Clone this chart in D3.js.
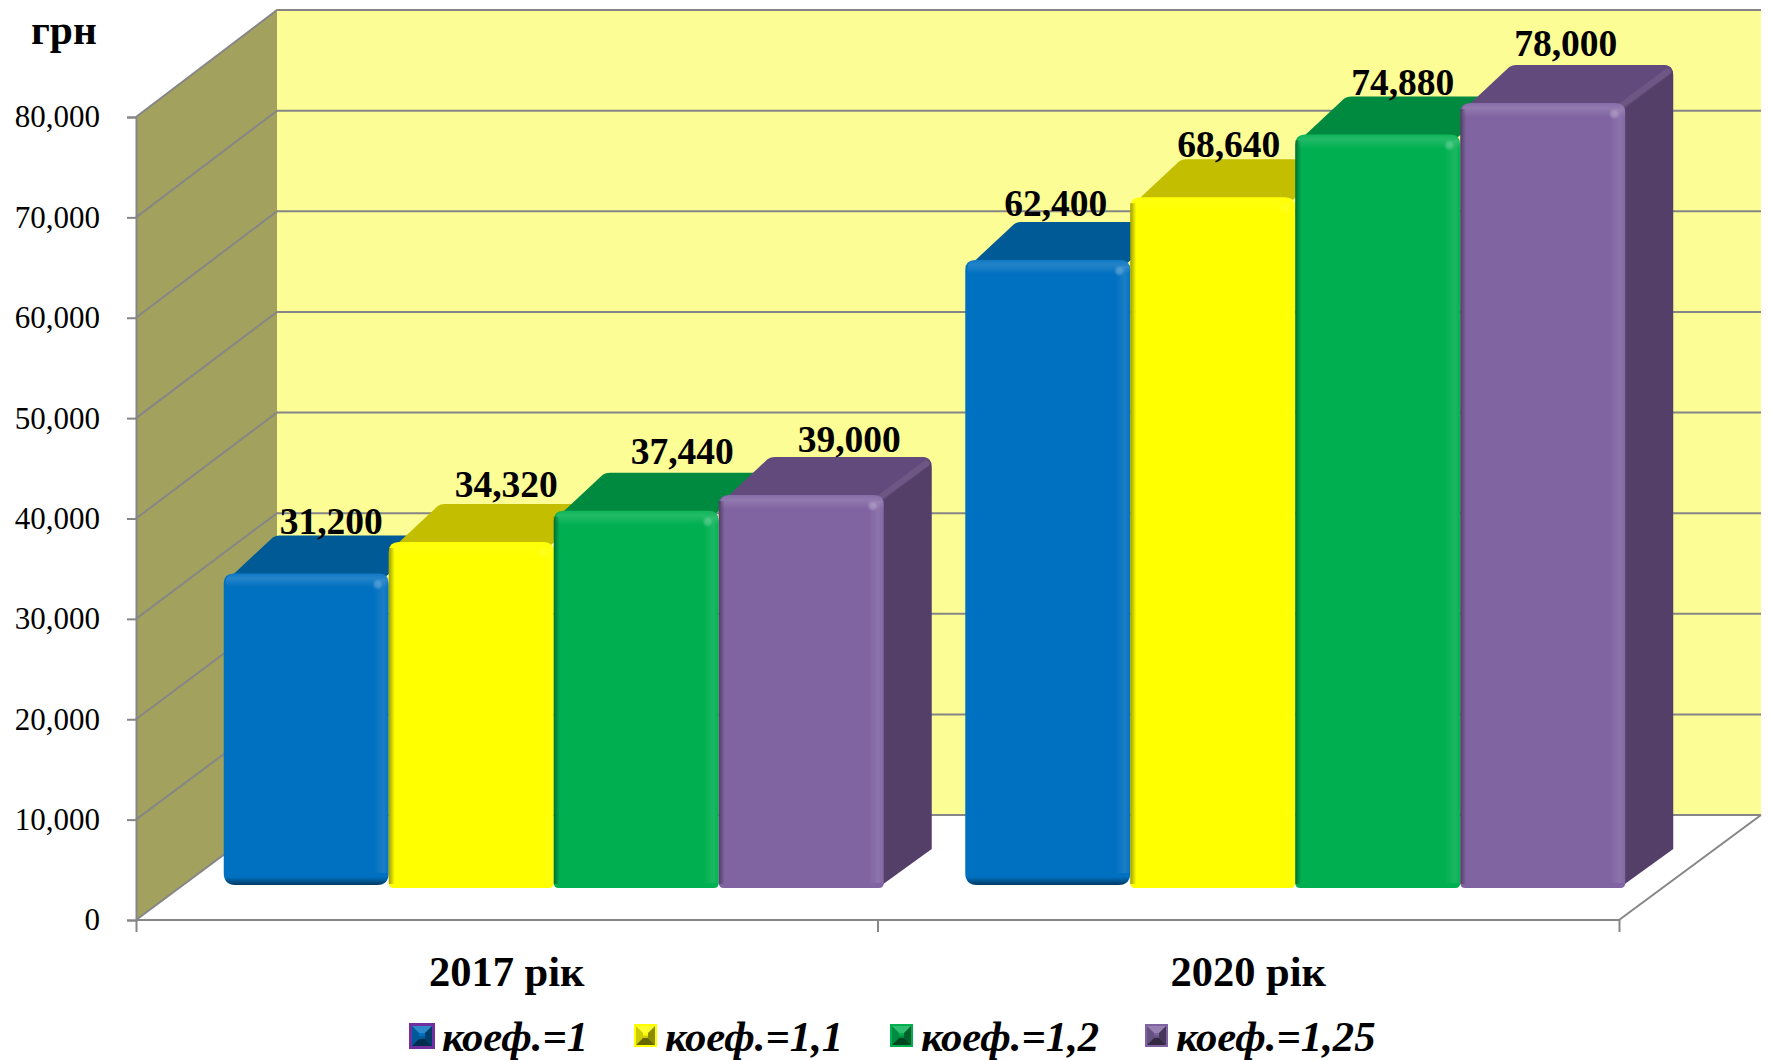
<!DOCTYPE html>
<html><head><meta charset="utf-8">
<script src="https://cdnjs.cloudflare.com/ajax/libs/d3/7.8.5/d3.min.js"></script>
<style>html,body{margin:0;padding:0;background:#fff;overflow:hidden}svg{display:block}
text{font-family:"Liberation Serif","Times New Roman",serif;fill:#000}</style></head>
<body><svg id="c" width="1769" height="1060"></svg>
<script>
// ---- data ----
const categories = ["2017 рік", "2020 рік"];
const seriesNames = ["коеф.=1", "коеф.=1,1", "коеф.=1,2", "коеф.=1,25"];
const values2017 = [31200, 34320, 37440, 39000];
const values2020 = [62400, 68640, 74880, 78000];
const yTicks = [0, 10000, 20000, 30000, 40000, 50000, 60000, 70000, 80000];
const unitLabel = "грн";

// ---- style / layout ----
const frontFill = ["#0070C0", "#FFFF00", "#00B050", "#8064A2"];
const topFill   = ["#005A96", "#C4BE00", "#008A40", "#634A7C"];
const sideFill  = ["#004F85", "#A8A300", "#00763A", "#533F68"];
const legendEdge = ["#7030A0", "#FFFF00", "#00B050", "#8064A2"];
const highlightStrength = [1, 0.35, 1, 1];
const legendX = [409, 634, 890, 1145];
const legendTextX = [442, 665, 921, 1176];
const labelNudge = [[25, -39], [35, -45], [46, -47], [48, -43], [8, -44], [16, -40], [25, -39], [23, -47]];
const grid = "#868686";
const wallDx = 141, barDx = 48, barDy = -38;
const floorLeft = 136, floorRight = 1619;
const svg = d3.select("#c");
const y = d3.scaleLinear().domain([0, 80000]).range([920, 117]);
const yBack = d3.scaleLinear().domain([0, 80000]).range([815, 10]);
const yBar = d3.scaleLinear().domain([0, 80000]).range([887, 83]);
const xCat = d3.scaleBand().domain(categories).range([floorLeft, floorRight]);
const barShift = 47, groupWidth = 660;
const xInner = d3.scaleBand().domain(seriesNames).range([0, groupWidth]);
const groupLeft = c => xCat(c) + (xCat.bandwidth() - groupWidth) / 2 + barShift;

// ---- gradients ----
const defs = svg.append("defs");
function grad(id, x2, y2, stops) {
  const g = defs.append("linearGradient").attr("id", id).attr("x1", 0).attr("y1", 0).attr("x2", x2).attr("y2", y2);
  stops.forEach(s => g.append("stop").attr("offset", s[0]).attr("stop-color", s[1]).attr("stop-opacity", s[2]));
}
grad("hlTop", 0, 1, [[0, "#fff", .06], [.35, "#fff", .14], [1, "#fff", 0]]);
grad("hlRight", 1, 0, [[0, "#fff", 0], [.65, "#fff", .1], [1, "#fff", .02]]);
grad("shLeft", 1, 0, [[0, "#000", .38], [1, "#000", 0]]);
grad("shBottom", 0, 1, [[0, "#000", 0], [1, "#000", .5]]);
defs.append("filter").attr("id", "soft").append("feGaussianBlur").attr("stdDeviation", 1.2);

// ---- walls ----
const pts = a => a.map(p => p.join(",")).join(" ");
const x0 = floorLeft, x1 = x0 + wallDx, xr = floorRight + wallDx + 1;
svg.append("polygon").attr("points", pts([[x1, yBack(80000)], [xr, yBack(80000)], [xr, yBack(0)], [x1, yBack(0)]])).attr("fill", "#FDFD96");
svg.append("polygon").attr("points", pts([[x0, y(0)], [x1, yBack(0)], [x1, yBack(80000)], [x0, y(80000)]])).attr("fill", "#A2A25E");

// gridlines
const gridG = svg.append("g").attr("stroke", grid).attr("stroke-width", 2).attr("fill", "none");
gridG.selectAll("polyline").data(yTicks).join("polyline")
  .attr("points", d => pts([[x0, y(d)], [x1, yBack(d)], [xr, yBack(d)]]));
gridG.append("line").attr("x1", floorLeft).attr("y1", y(0)).attr("x2", floorRight).attr("y2", y(0));
gridG.append("line").attr("x1", floorRight).attr("y1", y(0)).attr("x2", xr).attr("y2", yBack(0));

// axes
const yAxis = d3.axisLeft(y).tickValues(yTicks).tickFormat(d3.format(",")).tickSize(9).tickPadding(27);
const gy = svg.append("g").attr("transform", `translate(${floorLeft},0)`).call(yAxis);
gy.selectAll("path,line").attr("stroke", grid).attr("stroke-width", 2);
gy.selectAll("text").attr("font-size", 31).attr("font-family", "Liberation Serif").attr("fill", "#000");
const xTick = d3.scaleLinear().domain([0, categories.length]).range([floorLeft, floorRight]);
const gx = svg.append("g").attr("transform", `translate(0,${y(0)})`)
  .call(d3.axisBottom(xTick).tickValues(d3.range(categories.length + 1)).tickFormat("").tickSize(12).tickSizeOuter(0));
gx.select("path").remove();
gx.selectAll("line").attr("stroke", grid).attr("stroke-width", 2);

// ---- bars ----
const rows = [];
categories.forEach((c, ci) => {
  (ci ? values2020 : values2017).forEach((v, si) => rows.push({ c, ci, si, v, s: seriesNames[si] }));
});
const barW = xInner.bandwidth();
rows.forEach(d => {
  const l = groupLeft(d.c) + xInner(d.s), r = l + barW, t = yBar(d.v);
  const blue = d.si === 0, b = blue ? yBar(0) - 2 : yBar(0) + 1;
  const rb = blue ? 12 : 5, rt = 10;
  const g = svg.append("g");
  const last = d.si === seriesNames.length - 1;
  const cx = r + barDx, cy = t + barDy;
  // side face with a rounded rear corner
  if (last) {
    g.append("path").attr("d", `M${r - 6},${t + 4}L${cx - 10},${cy}Q${cx},${cy} ${cx},${cy + 10}V${yBar(0) + barDy}L${r - 6},${yBar(0) + 1}Z`)
      .attr("fill", sideFill[d.si]);
  }
  // top face
  const rightBack = last ? `H${cx - 10}Q${cx - 1},${cy} ${cx - 1},${cy + 7}L${r - 4},${t + 6}` : `H${cx - 3}L${r - 4},${t + 4}`;
  g.append("path").attr("d", `M${l + 3},${t + 7}L${l + barDx + 1},${cy + 2}Q${l + barDx + 4},${cy} ${l + barDx + 8},${cy}${rightBack}Z`)
    .attr("fill", topFill[d.si]);
  if (last) {
    g.append("line").attr("x1", r - 6).attr("y1", t + 5).attr("x2", cx - 6).attr("y2", cy + 7)
      .attr("stroke", "#fff").attr("stroke-opacity", .07).attr("stroke-width", 7).attr("stroke-linecap", "round");
  }
  // front face
  const path = `M${l},${t + rt}Q${l},${t} ${l + rt},${t}H${r - rt}Q${r},${t} ${r},${t + rt}V${b - rb}Q${r},${b} ${r - rb},${b}H${l + rb}Q${l},${b} ${l},${b - rb}Z`;
  g.append("path").attr("d", path).attr("fill", frontFill[d.si]);
  const bandH = 14, bandW = 15, hs = highlightStrength[d.si];
  g.append("rect").attr("x", r - bandW).attr("y", t + 6).attr("width", bandW).attr("height", b - t - 6 - rb).attr("fill", "url(#hlRight)").attr("opacity", hs);
  g.append("path").attr("d", `M${l + 2},${t + bandH}V${t + 9}Q${l + 2},${t} ${l + 11},${t}H${r - 9}Q${r},${t} ${r},${t + 9}V${t + bandH}Z`).attr("fill", "url(#hlTop)").attr("opacity", hs);
  g.append("circle").attr("cx", r - 11).attr("cy", t + 11).attr("r", 4).attr("fill", "#fff").attr("opacity", .22 * hs).attr("filter", "url(#soft)");
  if (!blue) g.append("rect").attr("x", l).attr("y", t + 6).attr("width", 6).attr("height", b - t - 10).attr("fill", "url(#shLeft)");
  if (blue) g.append("path").attr("d", `M${l + 1},${b - 8}H${r - 1}Q${r - 2},${b} ${r - rb},${b}H${l + rb}Q${l + 2},${b} ${l + 1},${b - 8}Z`).attr("fill", "url(#shBottom)");
});

// value labels
svg.append("g").selectAll("text").data(rows).join("text")
  .attr("x", (d, i) => groupLeft(d.c) + xInner(d.s) + barW / 2 + labelNudge[i][0])
  .attr("y", (d, i) => yBar(d.v) + labelNudge[i][1])
  .attr("text-anchor", "middle").attr("font-size", 37.5).attr("font-weight", 700)
  .text(d => d3.format(",")(d.v));

// category labels
svg.append("g").selectAll("text").data(categories).join("text")
  .attr("x", d => xCat(d) + xCat.bandwidth() / 2).attr("y", 986)
  .attr("text-anchor", "middle").attr("font-size", 42.5).attr("font-weight", 700).text(d => d);

// unit
svg.append("text").attr("x", 31).attr("y", 44).attr("font-size", 41.5).attr("font-weight", 700).text(unitLabel);

// ---- legend ----
const lg = svg.append("g").selectAll("g").data(seriesNames).join("g");
lg.each(function (name, i) {
  const g = d3.select(this), s = i === 0 ? 26 : 23, sx = legendX[i], sy = i === 0 ? 1023 : 1024;
  const e = i === 0 ? 3 : 2, b = 7;
  g.append("rect").attr("x", sx).attr("y", sy).attr("width", s).attr("height", s).attr("fill", legendEdge[i]);
  const a = sx + e, c = sy + e, w = s - 2 * e;
  g.append("rect").attr("x", a).attr("y", c).attr("width", w).attr("height", w).attr("fill", frontFill[i]);
  const poly = (p, f, o) => g.append("polygon").attr("points", pts(p)).attr("fill", f).attr("opacity", o);
  poly([[a, c], [a + w, c], [a + w - b, c + b], [a + b, c + b]], "#fff", .18);
  poly([[a, c], [a + b, c + b], [a + b, c + w - b], [a, c + w]], "#000", .2);
  poly([[a + w, c], [a + w - b, c + b], [a + w - b, c + w - b], [a + w, c + w]], "#000", .45);
  poly([[a, c + w], [a + b, c + w - b], [a + w - b, c + w - b], [a + w, c + w]], "#000", .6);
  poly([[a + b, c + w / 2], [a + w - b, c + w / 2], [a + w - b, c + w - b], [a + b, c + w - b]], "#000", .2);
  g.append("text").attr("x", legendTextX[i]).attr("y", 1051).attr("font-size", 42.7)
    .attr("font-weight", 700).attr("font-style", "italic").text(name);
});
</script></body></html>
